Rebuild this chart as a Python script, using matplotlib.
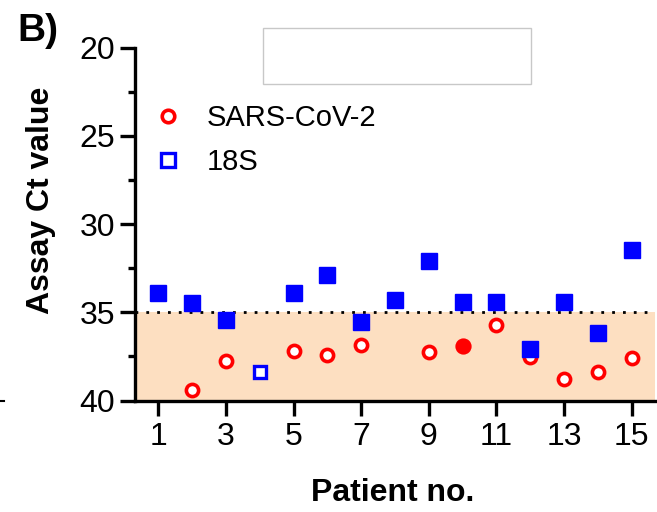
import numpy as np
import matplotlib
matplotlib.use("Agg")
import matplotlib.pyplot as plt
from matplotlib.lines import Line2D
from matplotlib.patches import Rectangle

plt.rcParams['font.family'] = ['Liberation Sans', 'DejaVu Sans']

# ---- data ----
patients = np.arange(1, 16)
sars_ct = [np.nan, 39.43, 37.79, np.nan, 37.2, 37.45, 36.84, np.nan,
           37.26, 36.94, 35.75, 37.53, 38.77, 38.36, 37.6]
sars_filled = [False, False, False, False, False, False, False, False,
               False, True, False, False, False, False, False]
s18_ct = [33.9, 34.49, 35.43, 38.36, 33.9, 32.9, 35.56, 34.3,
          32.07, 34.43, 34.4, 37.07, 34.4, 36.19, 31.46]
s18_filled = [True, True, True, False, True, True, True, True,
              True, True, True, True, True, True, True]
cutoff = 35
y_ticks = [20, 25, 30, 35, 40]
x_ticks = [1, 3, 5, 7, 9, 11, 13, 15]
series_labels = ['SARS-CoV-2', '18S']
x_label = 'Patient no.'
y_label = 'Assay Ct value'
panel = 'B)'

RED = '#FF0000'
BLUE = '#0000FF'

fig = plt.figure(figsize=(6.57, 5.12), dpi=100)
W, H = 657, 512
ax = fig.add_axes([135 / W, 1 - 400.5 / H, 520 / W, 353 / H])

ax.set_xlim(0.31, 15.69)
ax.set_ylim(40, 20)

ax.axhspan(cutoff, 40, color='#FDDFC1', zorder=0, lw=0)
ax.axhline(cutoff, color='black', lw=2.0, ls=(0, (1, 2.9)), zorder=1)

p = np.asarray(patients)
sc = np.asarray(sars_ct)
sf = np.asarray(sars_filled)
s18 = np.asarray(s18_ct)
s18f = np.asarray(s18_filled)

ax.plot(p[~sf], sc[~sf], 'o', ms=8.8, mew=2.6, mec=RED, mfc='white', ls='none', zorder=3, clip_on=False)
ax.plot(p[sf], sc[sf], 'o', ms=10.2, mew=1.5, mec=RED, mfc=RED, ls='none', zorder=3, clip_on=False)
ax.plot(p[s18f], s18[s18f], 's', ms=11.4, mew=1.0, mec=BLUE, mfc=BLUE, ls='none', zorder=4, clip_on=False)
ax.plot(p[~s18f], s18[~s18f], 's', ms=9.2, mew=2.4, mec=BLUE, mfc='white', ls='none', zorder=4, clip_on=False)

for s in ['top', 'right']:
    ax.spines[s].set_visible(False)
for s in ['left', 'bottom']:
    ax.spines[s].set_linewidth(2.4)

ax.set_yticks(y_ticks)
ax.set_yticks([22.5, 27.5, 32.5, 37.5], minor=True)
ax.set_xticks(x_ticks)
ax.tick_params(axis='both', which='major', length=10.5, width=2.4, labelsize=23, color='black')
ax.tick_params(axis='y', which='major', pad=4)
ax.tick_params(axis='x', which='major', pad=5)
ax.tick_params(axis='y', which='minor', length=5, width=2.4)

handles = [
    Line2D([], [], marker='o', ls='none', ms=9.0, mew=2.6, mec=RED, mfc='white'),
    Line2D([], [], marker='s', ls='none', ms=9.4, mew=2.4, mec=BLUE, mfc='white'),
]
leg = ax.legend(handles, series_labels, loc='upper left', frameon=False,
                bbox_to_anchor=(153 / W, 1 - 104 / H), bbox_transform=fig.transFigure,
                fontsize=21, handlelength=1.0, handletextpad=0.85, labelspacing=0.55,
                borderaxespad=0, borderpad=0)

fig.text(393 / W, 1 - 493 / H, x_label, ha='center', va='center', fontsize=23, fontweight='bold')
fig.text(41 / W, 1 - 200 / H, y_label, ha='center', va='center', rotation=90, fontsize=23, fontweight='bold')
fig.text(17 / W, 1 - 31 / H, panel, ha='left', va='center', fontsize=28, fontweight='bold')

fig.patches.append(Rectangle((263 / W, 1 - 84 / H), 268 / W, 56 / H, transform=fig.transFigure,
                             fill=False, edgecolor='#C8C8C8', lw=1.0))
fig.add_artist(Line2D([0, 4 / W], [1 - 401 / H, 1 - 401 / H], transform=fig.transFigure, color='black', lw=1.5))

fig.savefig('out.png', dpi=100)
